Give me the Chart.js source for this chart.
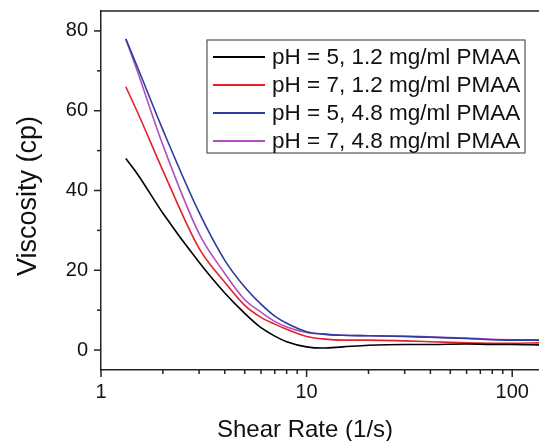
<!DOCTYPE html>
<html>
<head>
<meta charset="utf-8">
<script src="https://cdn.jsdelivr.net/npm/chart.js@4"></script>
<style>
    html, body { margin: 0; padding: 0; background: #fff; overflow: hidden; }
    #wrap { width: 539px; height: 441px; position: relative; }
</style>
</head>
<body>
<div id="wrap"><canvas id="viscChart"></canvas></div>
<script>
// shear rate (1/s) sample points
const shearRate = [1.32, 1.5, 2, 3, 4, 5, 6, 7, 8, 10, 12, 15, 20, 30, 40, 60, 80, 100, 135];

// viscosity (cp) per sample
const ph5Low  = [48, 44.2, 34.3, 22, 14.3, 9.2, 5.6, 3.5, 2.1, 0.8, 0.5, 0.8, 1.2, 1.4, 1.4, 1.5, 1.4, 1.4, 1.3];
const ph7Low  = [66, 59.8, 45, 25.5, 17, 11.2, 8.2, 6.5, 5.2, 3.4, 2.8, 2.5, 2.5, 2.3, 2.1, 1.8, 1.7, 1.7, 1.8];
const ph5High = [78, 71.1, 55.2, 34.5, 22.5, 15.8, 11.5, 8.5, 6.7, 4.6, 4.0, 3.7, 3.6, 3.4, 3.2, 2.9, 2.6, 2.5, 2.5];
const ph7High = [78, 70, 51.4, 29.2, 19.2, 12.6, 9.5, 7.2, 5.8, 4.4, 4.0, 3.7, 3.6, 3.5, 3.3, 3.0, 2.7, 2.6, 2.6];

const seriesLabels = [
    'pH = 5, 1.2 mg/ml PMAA',
    'pH = 7, 1.2 mg/ml PMAA',
    'pH = 5, 4.8 mg/ml PMAA',
    'pH = 7, 4.8 mg/ml PMAA'
];
const seriesColors = ['#000000', '#e8202a', '#2a3c9e', '#b050c0'];

// tick marks
const xTickValues = [1, 2, 3, 4, 5, 6, 7, 8, 9, 10, 20, 30, 40, 50, 60, 70, 80, 90, 100];
const xLabelValues = [1, 10, 100];
const yTickValues = [0, 10, 20, 30, 40, 50, 60, 70, 80];
const yLabelValues = [0, 20, 40, 60, 80];

const FONT = 'Arial, "Liberation Sans", sans-serif';

function toPoints(values) {
    return shearRate.map((x, i) => ({ x: x, y: values[i] }));
}

const allSeries = [ph5Low, ph7Low, ph5High, ph7High];

// draws tick marks (major longer), top frame, axis titles and the inset legend
const decorPlugin = {
    id: 'decor',
    afterDraw(chart) {
        const ctx = chart.ctx;
        const area = chart.chartArea;
        const xs = chart.scales.x;
        const ys = chart.scales.y;
        ctx.save();
        ctx.strokeStyle = '#222';
        ctx.lineWidth = 1.5;

        // top frame line
        ctx.beginPath();
        ctx.moveTo(area.left, area.top);
        ctx.lineTo(area.right, area.top);
        ctx.stroke();

        // x ticks
        xTickValues.forEach(v => {
            const px = xs.getPixelForValue(v);
            const len = xLabelValues.includes(v) ? 7 : 4;
            ctx.beginPath();
            ctx.moveTo(px, area.bottom);
            ctx.lineTo(px, area.bottom + len);
            ctx.stroke();
        });
        // y ticks
        yTickValues.forEach(v => {
            const py = ys.getPixelForValue(v);
            const len = yLabelValues.includes(v) ? 7 : 4;
            ctx.beginPath();
            ctx.moveTo(area.left, py);
            ctx.lineTo(area.left - len, py);
            ctx.stroke();
        });

        // axis titles
        ctx.fillStyle = '#111';
        ctx.font = '24px ' + FONT;
        ctx.textAlign = 'center';
        ctx.textBaseline = 'alphabetic';
        ctx.fillText('Shear Rate (1/s)', area.left + 204, area.bottom + 67);

        ctx.save();
        ctx.translate(area.left - 72, area.top + 185);
        ctx.rotate(-Math.PI / 2);
        ctx.font = '27px ' + FONT;
        ctx.textBaseline = 'middle';
        ctx.fillText('Viscosity (cp)', 0, 0);
        ctx.restore();

        // legend box
        const bx = area.left + 106, by = area.top + 29, bw = 318, bh = 113;
        ctx.strokeStyle = '#555';
        ctx.lineWidth = 1.2;
        ctx.strokeRect(bx, by, bw, bh);
        ctx.font = '22.5px ' + FONT;
        ctx.textAlign = 'left';
        ctx.textBaseline = 'middle';
        chart.data.datasets.forEach((ds, i) => {
            const rowY = by + 17 + i * 28;
            ctx.strokeStyle = ds.borderColor;
            ctx.lineWidth = 1.8;
            ctx.beginPath();
            ctx.moveTo(bx + 6, rowY);
            ctx.lineTo(bx + 58, rowY);
            ctx.stroke();
            ctx.fillStyle = '#111';
            ctx.fillText(ds.label, bx + 65, rowY + 1);
        });
        ctx.restore();
    }
};

new Chart(document.getElementById('viscChart'), {
    type: 'line',
    data: {
        datasets: allSeries.map((vals, i) => ({
            label: seriesLabels[i],
            data: toPoints(vals),
            borderColor: seriesColors[i],
            borderWidth: 1.6,
            pointRadius: 0,
            fill: false,
            cubicInterpolationMode: 'monotone'
        }))
    },
    options: {
        responsive: true,
        maintainAspectRatio: false,
        animation: false,
        layout: { padding: { top: 11, right: 0, left: 0, bottom: 0 } },
        plugins: {
            legend: { display: false },
            tooltip: { enabled: false }
        },
        scales: {
            x: {
                type: 'logarithmic',
                min: 1,
                max: 135,
                afterBuildTicks: s => { s.ticks = xTickValues.map(v => ({ value: v })); },
                afterFit: s => { s.height = 71; },
                grid: { display: false, drawTicks: false },
                border: { display: true, color: '#222', width: 1.5 },
                ticks: {
                    autoSkip: false,
                    maxRotation: 0,
                    padding: 10,
                    color: '#111',
                    font: { family: FONT, size: 20 },
                    callback: v => xLabelValues.includes(v) ? String(v) : ''
                }
            },
            y: {
                min: -5,
                max: 85,
                afterBuildTicks: s => { s.ticks = yTickValues.map(v => ({ value: v })); },
                afterFit: s => { s.width = 101; },
                // hidden tick marks only reserve the gap between labels and axis
                grid: { display: false, drawTicks: true, tickLength: 13 },
                border: { display: true, color: '#222', width: 1.5 },
                ticks: {
                    padding: 0,
                    color: '#111',
                    font: { family: FONT, size: 20, lineHeight: 0.1 },
                    callback: v => yLabelValues.includes(v) ? String(v) : ''
                }
            }
        }
    },
    plugins: [decorPlugin]
});
</script>
</body>
</html>
